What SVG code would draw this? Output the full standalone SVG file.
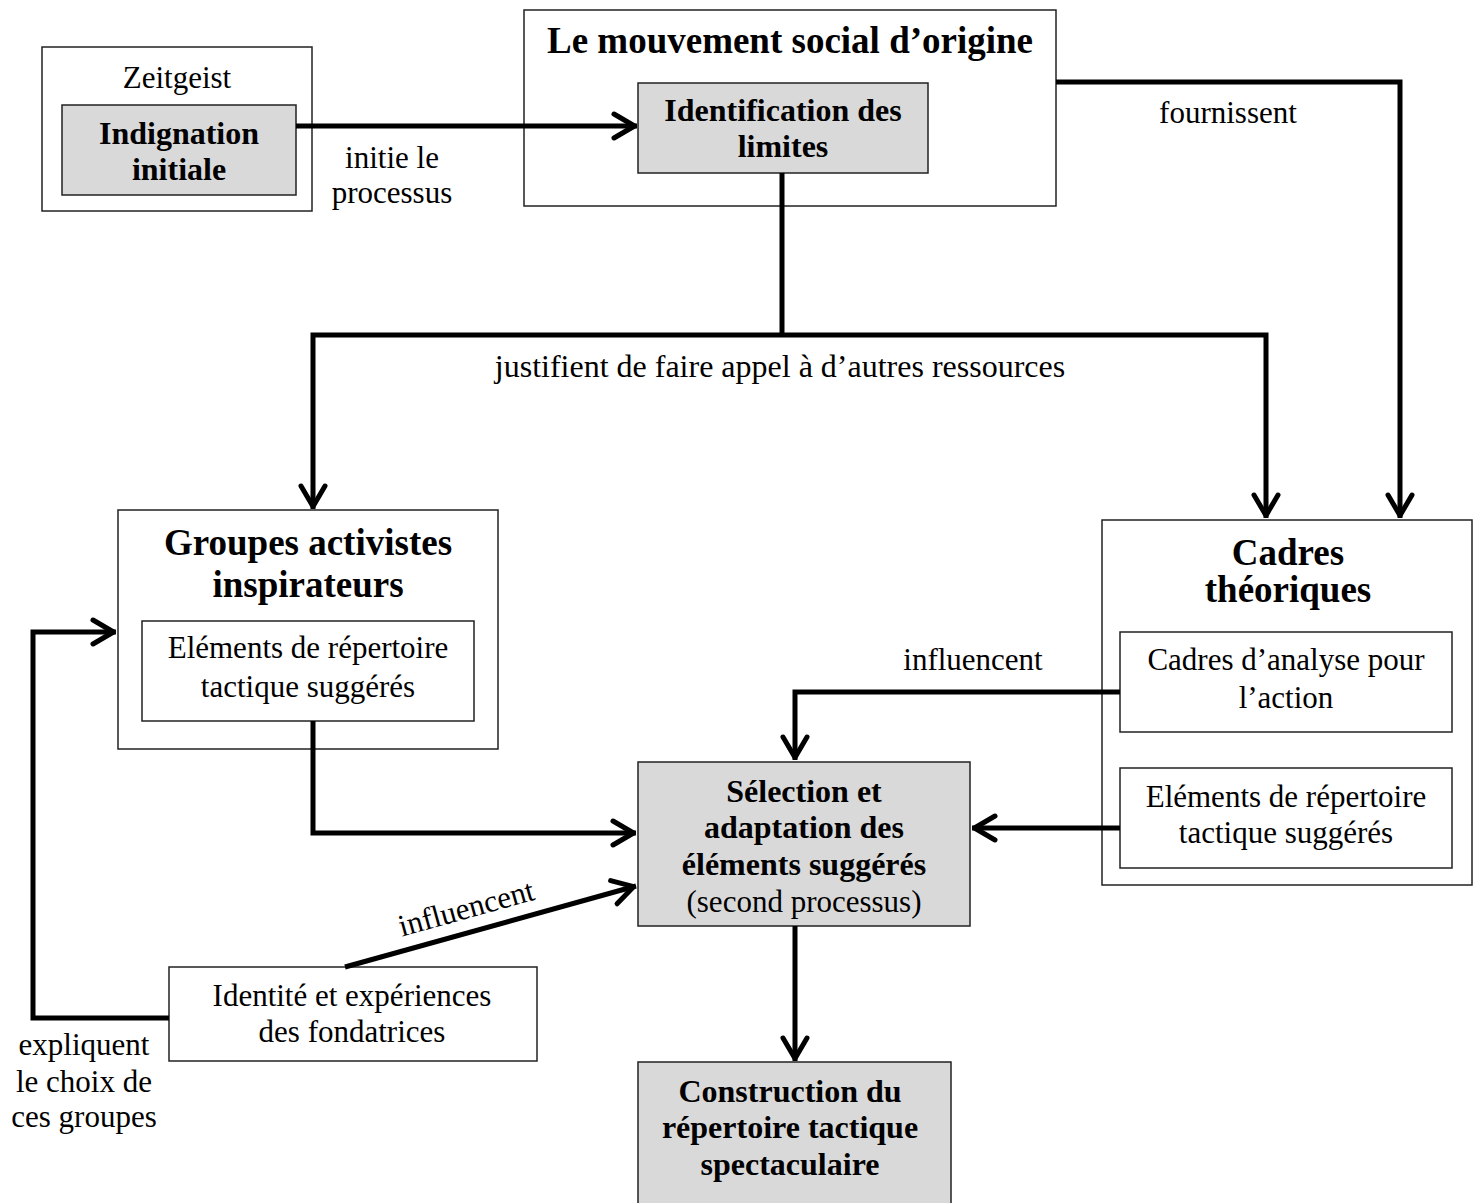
<svg xmlns="http://www.w3.org/2000/svg" width="1480" height="1203" viewBox="0 0 1480 1203">
<style>
  .box { fill: #ffffff; stroke: #222; stroke-width: 1.5; }
  .grey { fill: #d9d9d9; stroke: #222; stroke-width: 1.5; }
  .t { font-family: "Liberation Serif", "Times New Roman", serif; font-size: 31px; fill: #000; text-anchor: middle; }
  .b { font-weight: bold; font-size: 32px; }
  .h { font-weight: bold; font-size: 37px; }
  .c { fill: none; stroke: #000; stroke-width: 5; stroke-linejoin: miter; }
  .a { marker-end: url(#arr); }
</style>
<defs>
  <marker id="arr" markerUnits="userSpaceOnUse" viewBox="-30 -16 34 32" markerWidth="34" markerHeight="32" refX="0" refY="0" orient="auto" overflow="visible">
    <path d="M-23,-12 L-2.5,0 L-23,12" fill="none" stroke="#000" stroke-width="5" stroke-linecap="round" stroke-linejoin="round"/>
  </marker>
</defs>
<rect width="1480" height="1203" fill="#fff"/>

<g id="zeitgeist">
  <rect class="box" x="42" y="47" width="270" height="164"/>
  <text class="t" x="177" y="88">Zeitgeist</text>
  <rect class="grey" x="62" y="105" width="234" height="90"/>
  <text class="t b" x="179" y="144">Indignation</text>
  <text class="t b" x="179" y="180">initiale</text>
</g>

<g id="mouvement">
  <rect class="box" x="524" y="10" width="532" height="196"/>
  <text class="t h" x="790" y="53">Le mouvement social d’origine</text>
  <rect class="grey" x="638" y="83" width="290" height="90"/>
  <text class="t b" x="783" y="121">Identification des</text>
  <text class="t b" x="783" y="157">limites</text>
</g>

<g id="groupes">
  <rect class="box" x="118" y="510" width="380" height="239"/>
  <text class="t h" x="308" y="555">Groupes activistes</text>
  <text class="t h" x="308" y="597">inspirateurs</text>
  <rect class="box" x="142" y="621" width="332" height="100"/>
  <text class="t" x="308" y="658">Eléments de répertoire</text>
  <text class="t" x="308" y="697">tactique suggérés</text>
</g>

<g id="cadres">
  <rect class="box" x="1102" y="520" width="370" height="365"/>
  <text class="t h" x="1288" y="565">Cadres</text>
  <text class="t h" x="1288" y="602">théoriques</text>
  <rect class="box" x="1120" y="632" width="332" height="100"/>
  <text class="t" x="1286" y="670">Cadres d’analyse pour</text>
  <text class="t" x="1286" y="708">l’action</text>
  <rect class="box" x="1120" y="768" width="332" height="100"/>
  <text class="t" x="1286" y="807">Eléments de répertoire</text>
  <text class="t" x="1286" y="843">tactique suggérés</text>
</g>

<g id="selection">
  <rect class="grey" x="638" y="762" width="332" height="164"/>
  <text class="t b" x="804" y="802">Sélection et</text>
  <text class="t b" x="804" y="838">adaptation des</text>
  <text class="t b" x="804" y="875">éléments suggérés</text>
  <text class="t" x="804" y="912">(second processus)</text>
</g>

<g id="identite">
  <rect class="box" x="169" y="967" width="368" height="94"/>
  <text class="t" x="352" y="1006">Identité et expériences</text>
  <text class="t" x="352" y="1042">des fondatrices</text>
</g>

<g id="construction">
  <rect class="grey" x="638" y="1062" width="313" height="160"/>
  <text class="t b" x="790" y="1102">Construction du</text>
  <text class="t b" x="790" y="1138">répertoire tactique</text>
  <text class="t b" x="790" y="1175">spectaculaire</text>
</g>

<g id="connectors">
  <path class="c a" d="M296,126 H637"/>
  <path class="c" d="M782,173 V335"/>
  <path class="c a" d="M782,335 H313 V509"/>
  <path class="c a" d="M782,335 H1266 V518"/>
  <path class="c a" d="M1056,82 H1400 V518"/>
  <path class="c a" d="M313,721 V833 H636"/>
  <path class="c a" d="M169,1018 H33 V632 H116"/>
  <path class="c a" d="M345,967 L636,886"/>
  <path class="c a" d="M1120,692 H795 V760"/>
  <path class="c a" d="M1120,828 H972"/>
  <path class="c a" d="M795,926 V1061"/>
</g>

<g id="labels">
  <text class="t" x="392" y="168">initie le</text>
  <text class="t" x="392" y="203">processus</text>
  <text class="t" x="1228" y="123">fournissent</text>
  <text class="t" x="780" y="377" style="font-size:32px">justifient de faire appel à d’autres ressources</text>
  <text class="t" x="973" y="670">influencent</text>
  <text class="t" x="469" y="918" transform="rotate(-15.5 469 918)">influencent</text>
  <text class="t" x="84" y="1055">expliquent</text>
  <text class="t" x="84" y="1092">le choix de</text>
  <text class="t" x="84" y="1127">ces groupes</text>
</g>
</svg>
